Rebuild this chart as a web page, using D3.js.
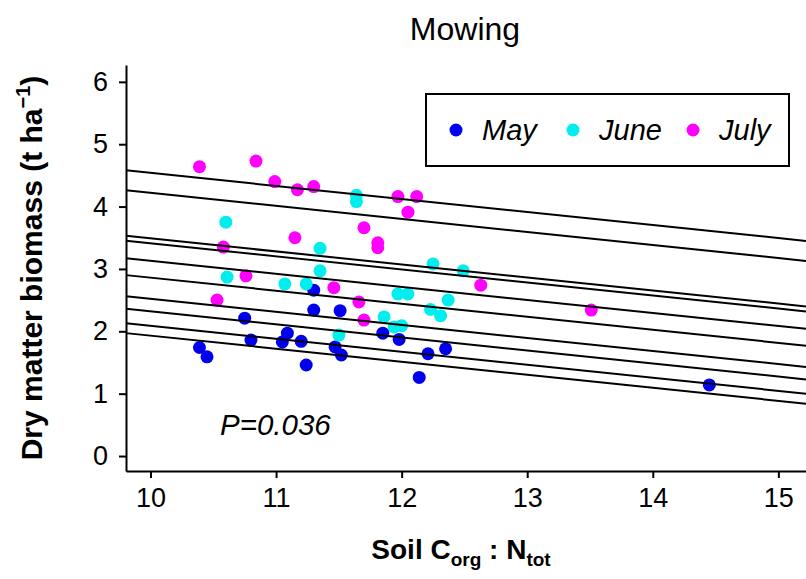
<!DOCTYPE html>
<html>
<head>
<meta charset="utf-8">
<script src="https://cdn.jsdelivr.net/npm/d3@7/dist/d3.min.js"></script>
<style>
  html, body { margin: 0; padding: 0; background: #fff; }
  svg { display: block; font-family: "Liberation Sans", Arial, Helvetica, sans-serif; }
</style>
</head>
<body>
<svg id="chart" width="806" height="579"></svg>
<script>
// Soil C:N ratio (x) and dry matter biomass in t/ha (y), by harvest month
const mayX  = [10.39, 10.45, 10.75, 10.80, 11.05, 11.09, 11.20, 11.24, 11.30, 11.30, 11.47, 11.51, 11.52, 11.85, 11.98, 12.14, 12.21, 12.35, 14.45];
const mayY  = [1.74, 1.59, 2.21, 1.86, 1.83, 1.97, 1.84, 1.46, 2.66, 2.34, 1.75, 2.33, 1.62, 1.97, 1.87, 1.26, 1.64, 1.72, 1.14];

const juneX = [10.60, 10.61, 11.07, 11.24, 11.35, 11.35, 11.50, 11.64, 11.64, 11.86, 11.94, 12.00, 11.97, 12.05, 12.23, 12.25, 12.31, 12.37, 12.49];
const juneY = [3.75, 2.87, 2.76, 2.76, 3.33, 2.97, 1.94, 4.18, 4.08, 2.23, 2.07, 2.09, 2.60, 2.60, 2.35, 3.08, 2.25, 2.50, 2.97];

const julyX = [10.39, 10.84, 10.99, 11.17, 11.30, 10.58, 11.15, 10.76, 10.53, 11.46, 11.70, 11.81, 11.81, 11.97, 12.12, 12.05, 11.66, 11.70, 12.63, 13.51];
const julyY = [4.64, 4.73, 4.40, 4.27, 4.32, 3.35, 3.50, 2.89, 2.50, 2.70, 3.66, 3.42, 3.34, 4.16, 4.16, 3.91, 2.47, 2.18, 2.74, 2.34];

// Fitted lines: common slope, one level (biomass at C:N = 10) per plot
const fitSlope = -0.209;
const fitLevelsAt10 = [4.54, 4.22, 3.49, 3.41, 3.13, 2.86, 2.52, 2.32, 2.09, 1.93];

const months = ["May", "June", "July"];
const monthColors = ["#0000ee", "#00eeee", "#ff00ff"];
const xTicks = [10, 11, 12, 13, 14, 15];
const yTicks = [0, 1, 2, 3, 4, 5, 6];
const pLabel = "P=0.036";

const svg = d3.select("#chart");
const font = "'Liberation Sans', Arial, Helvetica, sans-serif";

const x = d3.scaleLinear().domain([9.805, 15.22]).range([126, 806]);
const y = d3.scaleLinear().domain([-0.24, 6.27]).range([471, 65]);

// Title
svg.append("text")
  .attr("x", 465).attr("y", 40)
  .attr("text-anchor", "middle")
  .style("font-size", "32px")
  .text("Mowing");

// Axes
const fmt = d3.format("d");
const xAxis = svg.append("g")
  .attr("transform", `translate(0,${y.range()[0]})`)
  .call(d3.axisBottom(x).tickValues(xTicks).tickFormat(fmt).tickSize(7).tickSizeOuter(0).tickPadding(10));
const yAxis = svg.append("g")
  .attr("transform", `translate(${x.range()[0]},0)`)
  .call(d3.axisLeft(y).tickValues(yTicks).tickFormat(fmt).tickSize(7).tickSizeOuter(0).tickPadding(11));
[xAxis, yAxis].forEach(g => {
  g.selectAll("path.domain").attr("stroke", "#000").attr("stroke-width", 2);
  g.selectAll(".tick line").attr("stroke", "#000").attr("stroke-width", 2);
  g.selectAll(".tick text").attr("fill", "#000").style("font-size", "27px").style("font-family", font);
});

// Axis titles
const xt = svg.append("text")
  .attr("x", 461).attr("y", 559)
  .attr("text-anchor", "middle")
  .style("font-size", "28px").style("font-weight", "bold");
xt.append("tspan").text("Soil C");
xt.append("tspan").attr("dy", 7).style("font-size", "19px").text("org");
xt.append("tspan").attr("dy", -7).text(" : N");
xt.append("tspan").attr("dy", 7).style("font-size", "19px").text("tot");

const yt = svg.append("text")
  .attr("transform", "translate(42,268) rotate(-90)")
  .attr("text-anchor", "middle")
  .style("font-size", "30px").style("font-weight", "bold");
yt.append("tspan").text("Dry matter biomass (t ha");
yt.append("tspan").attr("dy", -12).style("font-size", "20px").text("\u22121");
yt.append("tspan").attr("dy", 12).text(")");

// Points
const plot = svg.append("g");
const groups = [
  { xs: mayX, ys: mayY, color: monthColors[0] },
  { xs: juneX, ys: juneY, color: monthColors[1] },
  { xs: julyX, ys: julyY, color: monthColors[2] }
];
groups.forEach(gr => {
  plot.append("g").selectAll("circle")
    .data(gr.xs.map((v, i) => [v, gr.ys[i]]))
    .join("circle")
    .attr("cx", d => x(d[0]))
    .attr("cy", d => y(d[1]))
    .attr("r", 6.5)
    .attr("fill", gr.color);
});

// Fitted lines across the full x range
const [x0, x1] = x.domain();
plot.append("g").selectAll("line")
  .data(fitLevelsAt10)
  .join("line")
  .attr("x1", x(x0)).attr("y1", d => y(d + fitSlope * (x0 - 10)))
  .attr("x2", x(x1)).attr("y2", d => y(d + fitSlope * (x1 - 10)))
  .attr("stroke", "#000").attr("stroke-width", 2);

// P value
svg.append("text")
  .attr("x", 220).attr("y", 435)
  .style("font-size", "29.5px").style("font-style", "italic")
  .text(pLabel);

// Legend
const legend = svg.append("g");
legend.append("rect")
  .attr("x", 426).attr("y", 94).attr("width", 363).attr("height", 72)
  .attr("fill", "#fff").attr("stroke", "#000").attr("stroke-width", 2);
const legendDotX = [456, 573, 693];
months.forEach((m, i) => {
  legend.append("circle")
    .attr("cx", legendDotX[i]).attr("cy", 130).attr("r", 6.5)
    .attr("fill", monthColors[i]);
  legend.append("text")
    .attr("x", legendDotX[i] + 26).attr("y", 140)
    .style("font-size", "29px").style("font-style", "italic")
    .text(m);
});
</script>
</body>
</html>
